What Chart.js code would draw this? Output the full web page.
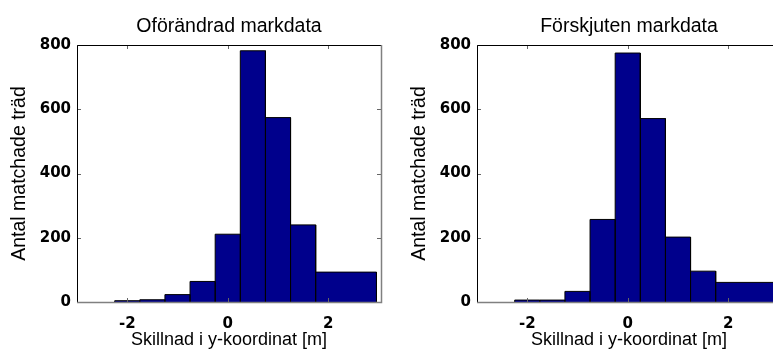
<!DOCTYPE html>
<html>
<head>
<meta charset="utf-8">
<script src="https://cdn.jsdelivr.net/npm/chart.js@4"></script>
<style>
  html, body { margin: 0; padding: 0; background: #fff; overflow: hidden; width: 773px; height: 353px; }
  .panel { position: absolute; top: 0; width: 400px; height: 353px; }
</style>
</head>
<body>
<div class="panel" style="left:0"><canvas id="leftChart" width="400" height="353"></canvas></div>
<div class="panel" style="left:400px"><canvas id="rightChart" width="400" height="353"></canvas></div>
<script>
// bin edges in metres (last bin is wider)
const binEdges = [-2.25, -1.75, -1.25, -0.75, -0.25, 0.25, 0.75, 1.25, 1.75, 2.96];
const countsOriginal = [4, 7, 23, 64, 211, 782, 574, 240, 93];
const countsShifted = [6, 6, 33, 257, 775, 571, 202, 96, 61];
const xTickValues = [-2, 0, 2];
const yTickValues = [0, 200, 400, 600, 800];

const FONT = "'Liberation Sans', Arial, Helvetica, sans-serif";
const TICK_FONT = "'DejaVu Sans', sans-serif";

function histPoints(counts) {
  const pts = [];
  counts.forEach((c, i) => {
    pts.push({ x: binEdges[i], y: 0 });
    pts.push({ x: binEdges[i], y: c });
    pts.push({ x: binEdges[i + 1], y: c });
    pts.push({ x: binEdges[i + 1], y: 0 });
  });
  return pts;
}

// matlab style box with ticks pointing inwards
const boxPlugin = {
  id: "matlabBox",
  afterDraw(chart) {
    const { ctx, chartArea: a, scales } = chart;
    ctx.save();
    ctx.lineWidth = 1;
    ctx.strokeStyle = "#666";
    scales.x.ticks.forEach((t) => {
      const px = Math.round(scales.x.getPixelForValue(t.value)) + 0.5;
      ctx.beginPath();
      ctx.moveTo(px, a.bottom);
      ctx.lineTo(px, a.bottom - 4);
      ctx.moveTo(px, a.top);
      ctx.lineTo(px, a.top + 4);
      ctx.stroke();
    });
    scales.y.ticks.forEach((t) => {
      const py = Math.round(scales.y.getPixelForValue(t.value)) + 0.5;
      ctx.beginPath();
      ctx.moveTo(a.left, py);
      ctx.lineTo(a.left + 4, py);
      ctx.moveTo(a.right, py);
      ctx.lineTo(a.right - 4, py);
      ctx.stroke();
    });
    // top + left black
    ctx.strokeStyle = "#000";
    ctx.beginPath();
    ctx.moveTo(Math.round(a.left) + 0.5, Math.round(a.bottom));
    ctx.lineTo(Math.round(a.left) + 0.5, Math.round(a.top) + 0.5);
    ctx.lineTo(Math.round(a.right), Math.round(a.top) + 0.5);
    ctx.stroke();
    // bottom + right grey
    ctx.strokeStyle = "#808080";
    ctx.lineWidth = 1.5;
    ctx.beginPath();
    ctx.moveTo(Math.round(a.left), Math.round(a.bottom) + 0.5);
    ctx.lineTo(Math.round(a.right) + 0.5, Math.round(a.bottom) + 0.5);
    ctx.lineTo(Math.round(a.right) + 0.5, Math.round(a.top));
    ctx.stroke();
    ctx.restore();
  },
};

function makeConfig(title, counts) {
  return {
    type: "line",
    data: {
      datasets: [
        {
          data: histPoints(counts),
          borderColor: "#000",
          borderWidth: 1,
          backgroundColor: "rgb(0, 0, 140)",
          fill: "origin",
          pointRadius: 0,
          tension: 0,
        },
      ],
    },
    options: {
      responsive: false,
      animation: false,
      layout: { padding: { left: 0, right: 19, top: 0, bottom: 0 } },
      scales: {
        x: {
          type: "linear",
          min: -3,
          max: 3.05,
          afterBuildTicks: (s) => { s.ticks = xTickValues.map((v) => ({ value: v })); },
          afterFit: (s) => { s.height = 51; },
          grid: { display: false, drawTicks: false },
          border: { display: false },
          ticks: { color: "#000", font: { family: TICK_FONT, size: 15, weight: "bold" }, padding: 13, maxRotation: 0 },
          title: {
            display: true,
            text: "Skillnad i y-koordinat [m]",
            color: "#000",
            font: { family: FONT, size: 18 },
            padding: { top: 0, bottom: 2 },
          },
        },
        y: {
          min: 0,
          max: 800,
          afterBuildTicks: (s) => { s.ticks = yTickValues.map((v) => ({ value: v })); },
          afterFit: (s) => { s.width = 77; },
          grid: { display: false, drawTicks: false },
          border: { display: false },
          ticks: { color: "#000", font: { family: TICK_FONT, size: 15, weight: "bold" }, padding: 6 },
          title: {
            display: true,
            text: "Antal matchade träd",
            color: "#000",
            font: { family: FONT, size: 19.5 },
            padding: { top: 8, bottom: 0 },
          },
        },
      },
      plugins: {
        legend: { display: false },
        tooltip: { enabled: false },
        title: {
          display: true,
          text: title,
          fullSize: false,
          color: "#000",
          font: { family: FONT, size: 19.5, weight: "normal" },
          padding: { top: 14.5, bottom: 7.1 },
        },
      },
    },
    plugins: [boxPlugin],
  };
}

const leftChart = new Chart(document.getElementById("leftChart"), makeConfig("Oförändrad markdata", countsOriginal));
const rightChart = new Chart(document.getElementById("rightChart"), makeConfig("Förskjuten markdata", countsShifted));
</script>
</body>
</html>
